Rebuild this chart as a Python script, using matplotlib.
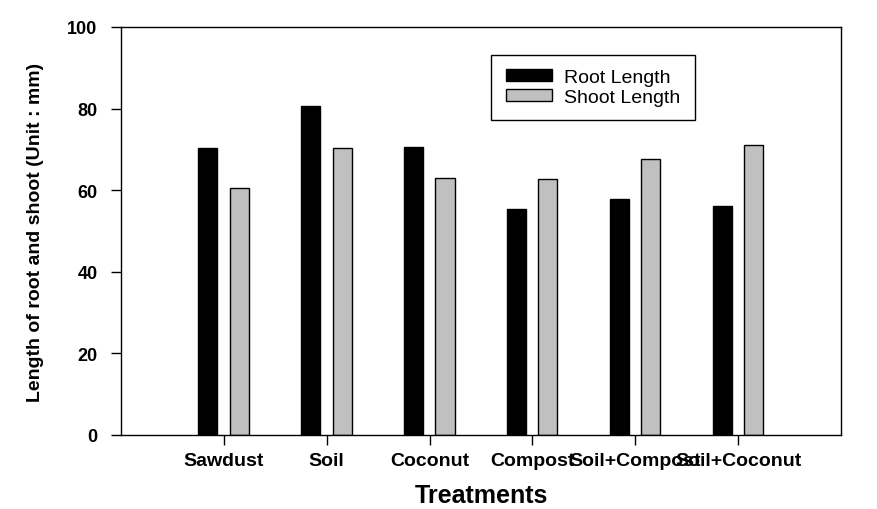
import numpy as np
from matplotlib import pyplot as plt

treatments = ["Sawdust", "Soil", "Coconut", "Compost", "Soil+Compost", "Soil+Coconut"]
root_length = [70.3, 80.6, 70.6, 55.4, 57.8, 56.1]
shoot_length = [60.5, 70.3, 63.0, 62.7, 67.6, 71.0]

plt.rcParams["font.family"] = ["Liberation Sans", "DejaVu Sans"]

fig = plt.figure(figsize=(8.77, 5.10), dpi=100)
ax = fig.add_axes([121 / 877, 1 - 436 / 510, 720 / 877, 408 / 510])

x = np.arange(len(treatments))
width = 0.185
ax.bar(x - 0.155, root_length, width, color="black", edgecolor="black",
       linewidth=1, label="Root Length")
ax.bar(x + 0.15, shoot_length, width, color="#c0c0c0", edgecolor="black",
       linewidth=1, label="Shoot Length")

ax.set_xlim(-1, 6)
ax.set_ylim(0, 100)
ax.set_xticks(x)
ax.set_xticklabels(treatments, fontsize=14, fontweight="bold")
ax.set_yticks(np.arange(0, 101, 20))
ax.set_yticklabels([str(v) for v in range(0, 101, 20)], fontsize=13, fontweight="bold")
ax.tick_params(direction="out", length=7, width=1)
ax.tick_params(axis="x", pad=5)
ax.tick_params(axis="y", pad=10)
for s in ax.spines.values():
    s.set_linewidth(1)

ax.set_xlabel("Treatments", fontsize=18, fontweight="bold", labelpad=10)
ax.set_ylabel("Length of root and shoot (Unit : mm)", fontsize=14, fontweight="bold", labelpad=17)

ax.legend(loc="upper left", bbox_to_anchor=(0.514, 0.932), fontsize=14, frameon=True,
          fancybox=False, edgecolor="black", framealpha=1, handlelength=2.4,
          handleheight=0.57, borderpad=0.75, labelspacing=0.12, handletextpad=0.6,
          borderaxespad=0)

plt.savefig("out.png", dpi=100)
plt.close()
